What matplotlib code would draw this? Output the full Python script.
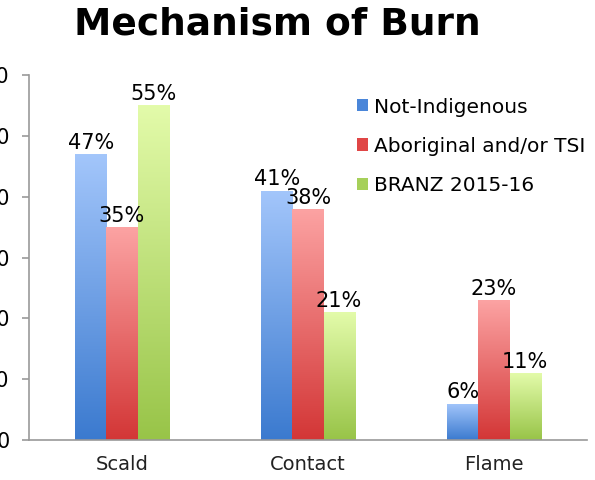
import numpy as np
import matplotlib.pyplot as plt
from matplotlib.colors import LinearSegmentedColormap
from matplotlib.patches import Patch

categories = ['Scald', 'Contact', 'Flame']
series_names = ['Not-Indigenous', 'Aboriginal and/or TSI', 'BRANZ 2015-16']
not_indigenous = [47, 41, 6]
aboriginal_tsi = [35, 38, 23]
branz = [55, 21, 11]
y_ticks = [0, 10, 20, 30, 40, 50, 60]

# (top colour, bottom colour, legend colour)
colours = [('#a3c6fb', '#3b7acf', '#4a86d9'),
           ('#fca3a3', '#d33636', '#e04646'),
           ('#e3fbaa', '#98c448', '#a6d05a')]

fig = plt.figure(figsize=(5.95, 4.8), dpi=100)
ax = fig.add_axes([29 / 595, 1 - 440 / 480, 558 / 595, 365 / 480])

x = np.arange(len(categories))
width = 0.167
grad = np.linspace(1, 0, 256).reshape(-1, 1)

for i, vals in enumerate([not_indigenous, aboriginal_tsi, branz]):
    top, bottom, _ = colours[i]
    cmap = LinearSegmentedColormap.from_list(f'g{i}', [bottom, top])
    bars = ax.bar(x + (i - 1) * width, vals, width, color='none', edgecolor='none')
    for b, v in zip(bars, vals):
        x0, w, h = b.get_x(), b.get_width(), b.get_height()
        im = ax.imshow(grad, extent=(x0, x0 + w, 0, h), cmap=cmap, aspect='auto',
                       origin='upper', vmin=0, vmax=1, zorder=2)
        im.set_clip_path(b)
        ax.text(x0 + w / 2, h + 0.2, f'{v}%', ha='center', va='bottom', fontsize=15)

ax.set_xlim(-0.5, 2.5)
ax.set_ylim(0, 60)
ax.set_yticks(y_ticks)
ax.set_xticks(x)
ax.set_xticklabels(categories)
ax.tick_params(axis='x', length=0, pad=11, labelsize=14, colors='#222222')
ax.tick_params(axis='y', length=5, width=1.2, pad=9, labelsize=15, color='#999999')
for s in ['top', 'right']:
    ax.spines[s].set_visible(False)
for s in ['left', 'bottom']:
    ax.spines[s].set_color('#999999')
    ax.spines[s].set_linewidth(1.2)

handles = [Patch(facecolor=c[2], edgecolor='none') for c in colours]
ax.legend(handles, series_names, loc='upper left', bbox_to_anchor=(0.556, 0.988),
          frameon=False, fontsize=14.5, handlelength=0.55, handleheight=0.55,
          handletextpad=0.3, labelspacing=1.0)

fig.text(0.466, 0.948, 'Mechanism of Burn', ha='center', va='center',
         fontsize=27, fontweight='bold')

fig.savefig('out.png', dpi=100)
